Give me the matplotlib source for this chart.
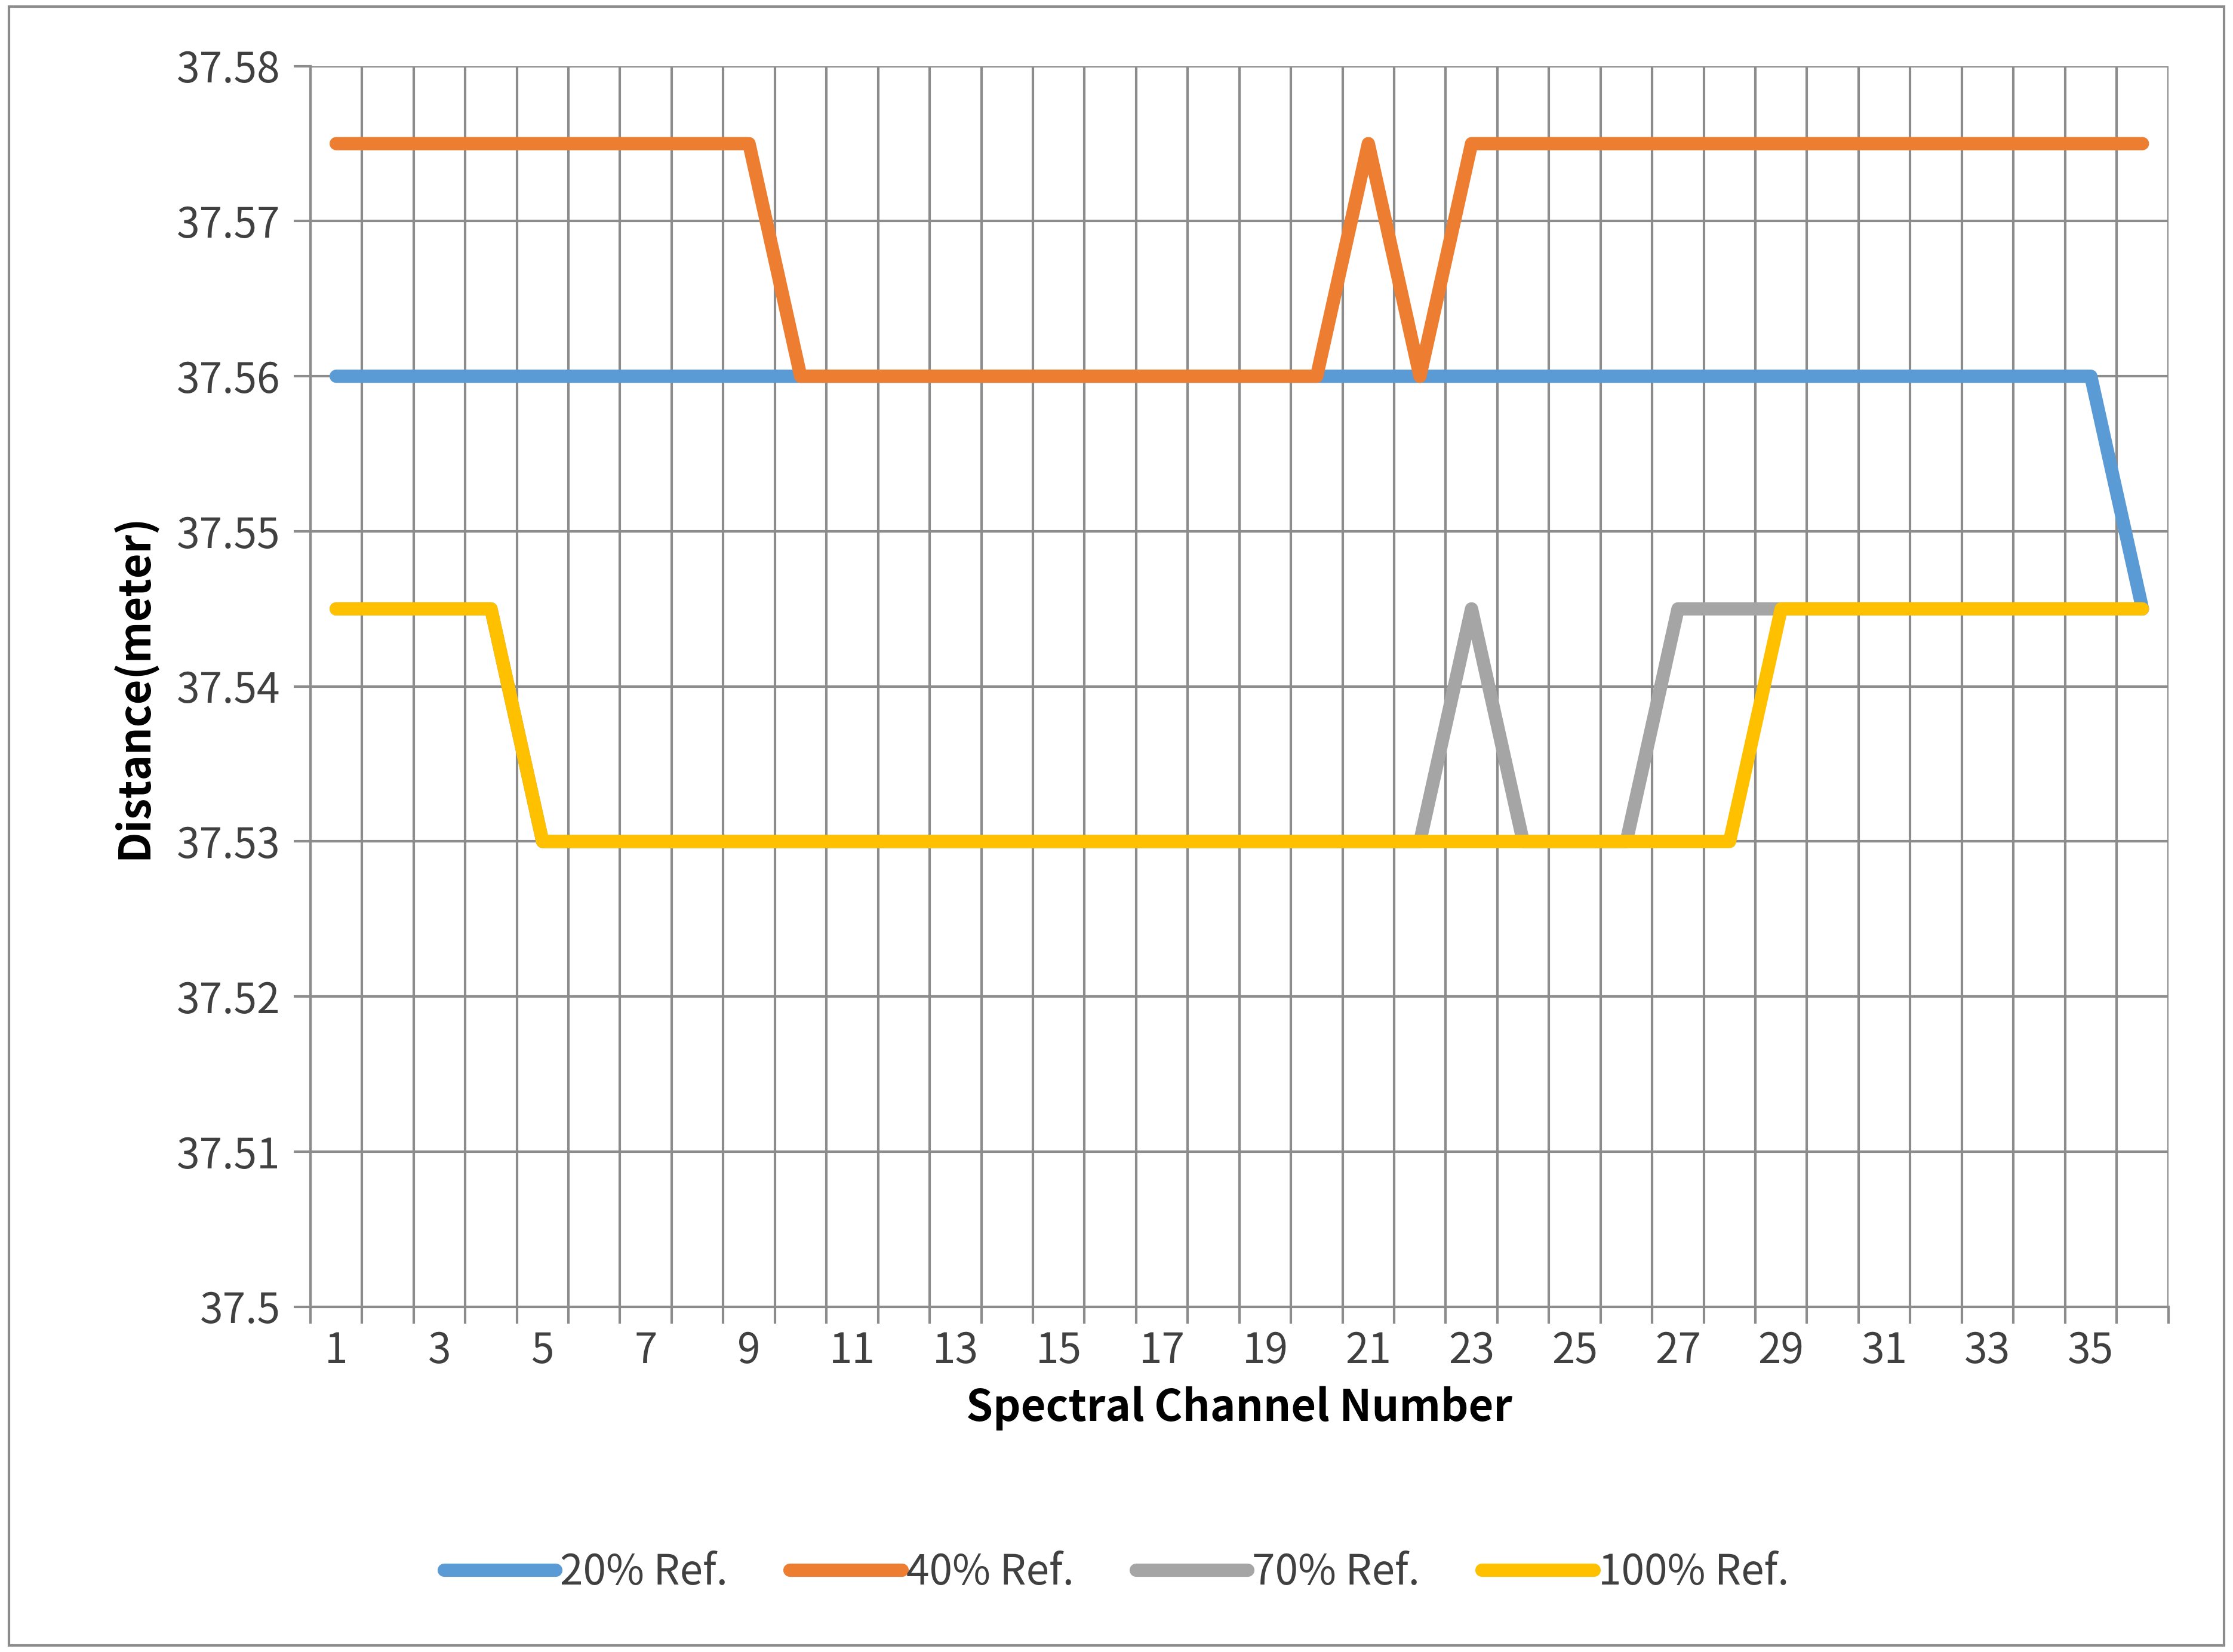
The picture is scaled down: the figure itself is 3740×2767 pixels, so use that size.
import matplotlib
matplotlib.use("Agg")
import matplotlib.pyplot as plt
from matplotlib.patches import Rectangle

plt.rcParams['font.family'] = ['Noto Sans CJK SC', 'DejaVu Sans']

channels = list(range(1, 37))
ref20 = [37.56]*35 + [37.545]
ref40 = [37.575]*9 + [37.56]*11 + [37.575, 37.56] + [37.575]*14
ref70 = [37.545]*4 + [37.53]*17 + [37.53, 37.545, 37.53, 37.53, 37.53, 37.545, 37.545] + [37.545]*8
ref100 = [37.545]*4 + [37.53]*24 + [37.545]*8
names = ['20% Ref.', '40% Ref.', '70% Ref.', '100% Ref.']
colors = ['#5B9BD5', '#ED7D31', '#A5A5A5', '#FFC000']

fig = plt.figure(figsize=(18.7, 13.835), dpi=200)
ax = fig.add_axes([0.139, 0.209, 0.832, 0.751])
for ys, n, c in zip([ref20, ref40, ref70, ref100], names, colors):
    ax.plot(channels, ys, color=c, lw=8, label=n, solid_capstyle='round', solid_joinstyle='round')

ax.set_xlim(0.5, 36.5)
ax.set_ylim(37.5, 37.58)
ax.set_yticks([37.5 + 0.01*i for i in range(9)])
ax.set_yticklabels(['37.5'] + ['%.2f' % (37.5 + 0.01*i) for i in range(1, 9)])
ax.set_xticks(range(1, 37, 2))
ax.set_xticks([i + 0.5 for i in range(0, 37)], minor=True)
ax.grid(True, which='minor', axis='x', color='#8C8C8C', lw=1.5)
ax.grid(True, which='major', axis='y', color='#8C8C8C', lw=1.5)
ax.set_axisbelow(True)
ax.tick_params(axis='x', which='major', length=0, labelsize=25, colors='#404040', pad=14)
ax.tick_params(axis='x', which='minor', length=10, color='#8C8C8C', width=1.5)
ax.tick_params(axis='y', length=10, color='#8C8C8C', width=1.5, labelsize=25, labelcolor='#404040', pad=8)
for s in ['top', 'right']:
    ax.spines[s].set_visible(False)
for s in ['left', 'bottom']:
    ax.spines[s].set_color('#8C8C8C')
    ax.spines[s].set_linewidth(1.5)
ax.set_xlabel('Spectral Channel Number', fontsize=26, fontweight='bold', labelpad=8)
ax.set_ylabel('Distance(meter)', fontsize=26, fontweight='bold', labelpad=12)

fig.legend(loc='center', bbox_to_anchor=(0.5, 0.048), ncol=4, frameon=False,
           fontsize=25, handlelength=2.7, handletextpad=0.1, columnspacing=1.5,
           labelcolor='#404040')
fig.patches.append(Rectangle((0.004, 0.004), 0.992, 0.992, transform=fig.transFigure,
                             fill=False, edgecolor='#8C8C8C', lw=1.5))
fig.savefig('out.png', dpi=200)
